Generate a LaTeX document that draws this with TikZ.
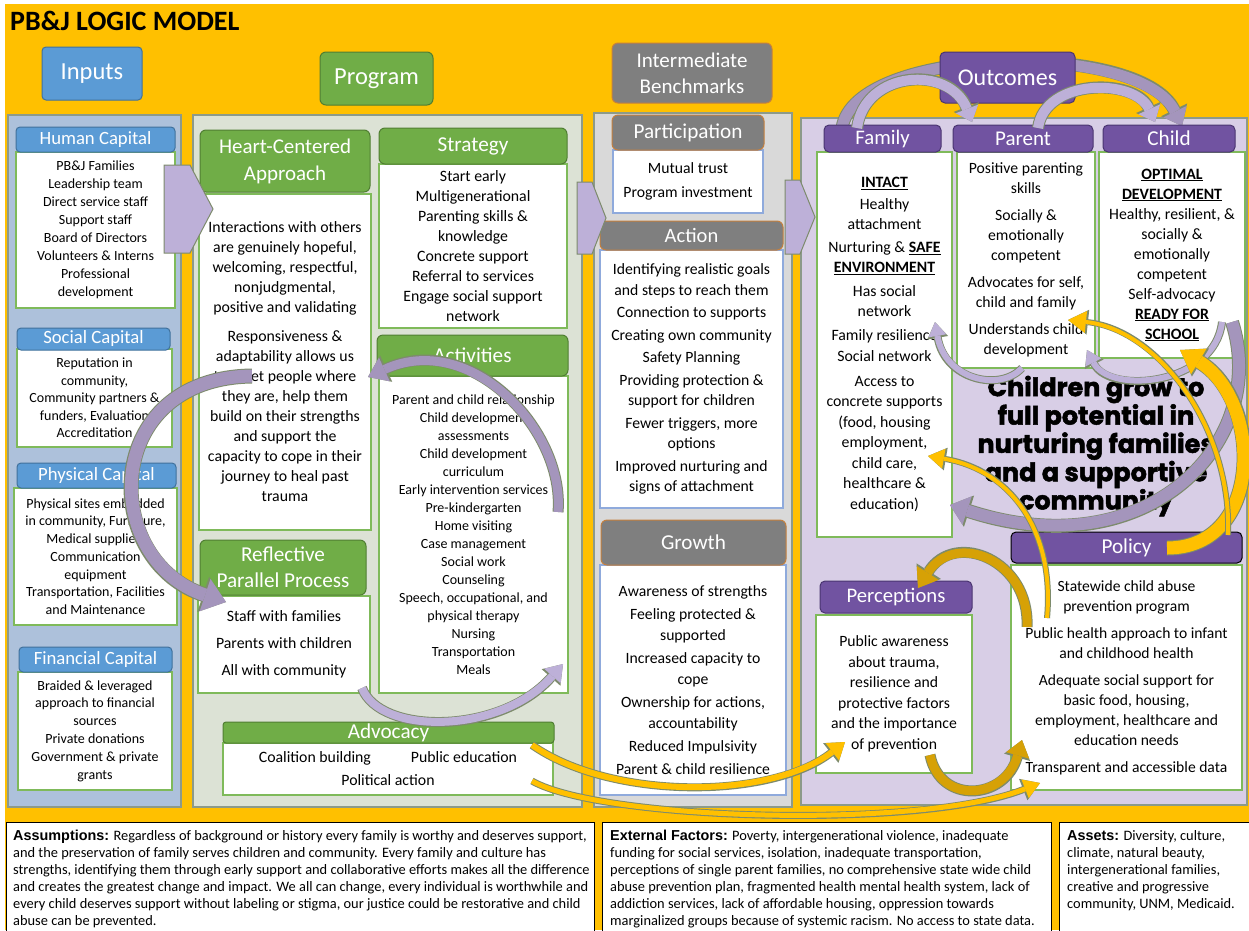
\documentclass[tikz,border=0pt]{standalone}
\usepackage{fontspec}
\setmainfont{Carlito}
\newfontfamily\arialf{Liberation Sans}
\newfontfamily\heavyf{Poppins}[BoldFeatures={FakeBold=2}]
\usetikzlibrary{arrows.meta}
\definecolor{bgor}{HTML}{FFC000}
\definecolor{cblue}{HTML}{5B9BD5}
\definecolor{cblueD}{HTML}{41719C}
\definecolor{cgreen}{HTML}{70AD47}
\definecolor{cgreenD}{HTML}{507E32}
\definecolor{cgreenL}{HTML}{7FBA5A}
\definecolor{cgray}{HTML}{7F7F7F}
\definecolor{cgrayB}{HTML}{C5803E}
\definecolor{cpurp}{HTML}{7153A1}
\definecolor{cpurpD}{HTML}{4A3570}
\definecolor{cblueL}{HTML}{8FAADC}
\definecolor{colIn}{HTML}{ADC1DB}
\definecolor{colPr}{HTML}{DCE2D5}
\definecolor{colIm}{HTML}{D9D9D9}
\definecolor{colOu}{HTML}{D8CEE6}
\definecolor{colB}{HTML}{8C9A8A}
\definecolor{apur}{HTML}{BDB0D8}
\definecolor{apurD}{HTML}{A495BC}
\definecolor{agold}{HTML}{FFC000}
\definecolor{agoldD}{HTML}{D6A106}
\definecolor{aout}{HTML}{7D8B6C}
\newcommand\fs[2]{\fontsize{#1}{#2}\selectfont}
\newcommand\bx[7]{\node[#2, minimum width={(#5-#3)*1pt}, minimum height={(#6-#4)*1pt}] (#1) at ({(#3+#5)/2},{(#4+#6)/2}) {#7};}
\newcommand\farrow[5]{%
 \pgfmathsetmacro\fo{#1+2}%
 \pgfmathsetmacro\fw{#3+3}%
 \pgfmathsetmacro\fl{#4+2}%
 \draw[line width=\fo pt, draw=aout, -{Triangle[width=\fw pt,length=\fl pt,line width=0pt]}] #5;
 \draw[line width=#1pt, draw=#2, -{Triangle[width=#3pt,length=#4pt,line width=0pt]}] #5;}
\begin{document}
\begin{tikzpicture}[x=1pt,y=-1pt,
 hdrB/.style={rounded corners=4pt, fill=cblue, draw=cblueD, line width=1pt, text=white, align=center, inner sep=0pt},
 hdrG/.style={rounded corners=6pt, fill=cgreen, draw=cgreenD, line width=1pt, text=white, align=center, inner sep=0pt},
 hdrGr/.style={rounded corners=6pt, fill=cgray, draw=cgrayB, line width=1pt, text=white, align=center, inner sep=0pt},
 hdrP/.style={rounded corners=5pt, fill=cpurp, draw=cpurpD, line width=1pt, text=white, align=center, inner sep=0pt},
 bodyG/.style={fill=white, draw=cgreenL, line width=1.3pt, align=center, inner sep=0pt},
 bodyB/.style={fill=white, draw=cblueL, line width=1.3pt, align=center, inner sep=0pt},
 colbox/.style={draw=colB, line width=1.2pt, inner sep=0pt},
 bottombox/.style={fill=white, draw=black, line width=1pt, inner sep=0pt},
 btext/.style={anchor=north west, align=left, inner sep=0pt, font=\fs{14.4}{17}}
]
\useasboundingbox (0,0) rectangle (1249,930);
\fill[bgor] (0,0) rectangle (1249,930);
\fill[white] (0,0) rectangle (1249,3.5);
\fill[white] (0,0) rectangle (5,930);
\node[anchor=base west, inner sep=0pt, font=\fs{28}{30}\bfseries] (title) at (10,30) {PB\&J LOGIC MODEL};

% columns
\bx{colin}{colbox, fill=colIn}{8}{115}{181}{807}{}
\bx{colpr}{colbox, fill=colPr}{193}{115}{582}{807}{}
\bx{colim}{colbox, fill=colIm}{594}{113}{792}{807}{}
\bx{colou}{colbox, fill=colOu}{801}{118}{1247}{805}{}

% big arc behind Outcomes
\farrow{11}{apurD}{26}{16}{(842,128) .. controls (855,45) and (1140,40) .. (1182,126)}

% top headers
\bx{inputs}{hdrB, font=\fs{24.5}{26}}{42}{47}{142}{100}{Inputs}
\bx{program}{hdrG, font=\fs{24.5}{26}}{320}{52}{433}{105}{Program}
\bx{ib}{hdrGr, font=\fs{21}{26}}{612}{43}{772}{103}{Intermediate\\Benchmarks}
\bx{outcomes}{hdrP, font=\fs{24}{26}}{940}{52}{1075}{103}{Outcomes}

% Inputs column
\bx{hc}{bodyG, font=\fs{14}{18}}{16}{152}{175}{308}{PB\&J Families\\Leadership team\\Direct service staff\\Support staff\\Board of Directors\\Volunteers \& Interns\\Professional\\development}
\bx{hch}{hdrB, font=\fs{18.7}{20}}{16}{127}{175}{152}{Human Capital}
\bx{sc}{bodyG, font=\fs{14}{17.5}}{17}{349}{172}{447}{Reputation in\\community,\\Community partners \&\\funders, Evaluation\\Accreditation}
\bx{sch}{hdrB, font=\fs{18.7}{20}}{17}{328}{170}{350}{Social Capital}
\bx{pc}{bodyG, font=\fs{14}{17.7}}{14}{488}{177}{625}{Physical sites embedded\\in community, Furniture,\\Medical supplies,\\Communication\\equipment\\Transportation, Facilities\\and Maintenance}
\bx{pch}{hdrB, font=\fs{18.7}{20}}{17}{463}{176}{488}{Physical Capital}
\bx{fc}{bodyG, font=\fs{14}{17.8}}{18}{672}{172}{790}{Braided \& leveraged\\approach to financial\\sources\\Private donations\\Government \& private\\grants}
\bx{fch}{hdrB, font=\fs{18.7}{20}}{19}{647}{172}{672}{Financial Capital}

% Program column
\bx{hcab}{bodyG, font=\fs{15.8}{20}}{199}{194}{371}{530}{Interactions with others\\are genuinely hopeful,\\welcoming, respectful,\\nonjudgmental,\\positive and validating\\[9pt]Responsiveness \&\\adaptability allows us\\to meet people where\\they are, help them\\build on their strengths\\and support the\\capacity to cope in their\\journey to heal past\\trauma}
\bx{hca}{hdrG, font=\fs{21}{27}}{200}{130}{370}{192}{Heart-Centered\\Approach}
\bx{stratb}{bodyG, font=\fs{15.8}{20}}{379}{164}{567}{328}{Start early\\Multigenerational\\Parenting skills \&\\knowledge\\Concrete support\\Referral to services\\Engage social support\\network}
\bx{strat}{hdrG, font=\fs{21.2}{22}}{379}{128}{567}{164}{Strategy}
\bx{actb}{bodyG, font=\fs{14}{18}}{379}{376}{568}{693}{Parent and child relationship\\Child development\\assessments\\Child development\\curriculum\\Early intervention services\\Pre-kindergarten\\Home visiting\\Case management\\Social work\\Counseling\\Speech, occupational, and\\physical therapy\\Nursing\\Transportation\\Meals}
\bx{act}{hdrG, font=\fs{21.2}{22}}{377}{335}{568}{376}{Activities}
\bx{rppb}{bodyG, font=\fs{15.8}{27}}{198}{596}{370}{693}{Staff with families\\Parents with children\\All with community}
\bx{rpp}{hdrG, font=\fs{21.2}{26}}{200}{540}{366}{595}{Reflective\\Parallel Process}
\bx{advb}{bodyG, font=\fs{15.8}{23}}{223}{743}{553}{795}{Coalition building\hspace{40pt}Public education\\Political action}
\bx{adv}{hdrG, rounded corners=3pt, font=\fs{21.2}{22}}{223}{722}{554}{743}{Advocacy}

% Intermediate column
\bx{partb}{bodyB, font=\fs{15.7}{24}}{613}{150}{763}{213}{Mutual trust\\Program investment}
\bx{part}{hdrGr, font=\fs{21.2}{22}}{612}{115}{764}{150}{Participation}
\bx{actnb}{bodyB, font=\fs{15.7}{20.5}}{600}{250}{783}{508}{Identifying realistic goals\\and steps to reach them\\[2pt]Connection to supports\\[2pt]Creating own community\\[2pt]Safety Planning\\[2pt]Providing protection \&\\support for children\\[2pt]Fewer triggers, more\\options\\[2pt]Improved nurturing and\\signs of attachment}
\bx{actn}{hdrGr, font=\fs{20.5}{22}}{600}{221}{783}{250}{Action}
\bx{growb}{bodyB, font=\fs{15.7}{21}}{600}{565}{786}{795}{Awareness of strengths\\[2pt]Feeling protected \&\\supported\\[2pt]Increased capacity to\\cope\\[2pt]Ownership for actions,\\accountability\\[2pt]Reduced Impulsivity\\[2pt]Parent \& child resilience}
\bx{grow}{hdrGr, font=\fs{21.2}{22}}{601}{520}{786}{565}{Growth}

% Outcomes column
\bx{famb}{bodyG, font=\fs{15.8}{20.5}}{817}{152}{952}{537}{\underline{\textbf{INTACT}}\\[1pt]Healthy\\attachment\\[2pt]Nurturing \& \underline{\textbf{SAFE}}\\\underline{\textbf{ENVIRONMENT}}\\[3pt]Has social\\network\\[3pt]Family resilience\\[1pt]Social network\\[4pt]Access to\\concrete supports\\(food, housing\\employment,\\child care,\\healthcare \&\\education)}
\bx{fam}{hdrP, font=\fs{20.7}{22}}{824}{125}{941}{152}{Family}
\bx{parb}{bodyG, font=\fs{15.7}{20}}{957}{152}{1095}{368}{Positive parenting\\skills\\[7pt]Socially \&\\emotionally\\competent\\[7pt]Advocates for self,\\child and family\\[7pt]Understands child\\development}
\bx{par}{hdrP, font=\fs{21}{22}}{953}{125}{1093}{152}{Parent}
\bx{chb}{bodyG, font=\fs{15.8}{20}}{1099}{152}{1245}{358}{\underline{\textbf{OPTIMAL}}\\\underline{\textbf{DEVELOPMENT}}\\Healthy, resilient, \&\\socially \&\\emotionally\\competent\\Self-advocacy\\\underline{\textbf{READY FOR}}\\\underline{\textbf{SCHOOL}}}
\bx{ch}{hdrP, font=\fs{21.2}{22}}{1103}{125}{1235}{152}{Child}
\node[font=\heavyf\bfseries\fs{25.5}{27}, align=center, inner sep=0pt] (slogan) at (1096,446) {Children grow to\\full potential in\\nurturing families\\and a supportive\\community};
\bx{polb}{bodyG, font=\fs{15.6}{20}}{1011}{565}{1242}{790}{Statewide child abuse\\prevention program\\[7pt]Public health approach to infant\\and childhood health\\[7pt]Adequate social support for\\basic food, housing,\\employment, healthcare and\\education needs\\[7pt]Transparent and accessible data}
\bx{pol}{hdrP, draw=black, font=\fs{21.2}{22}}{1011}{532}{1242}{563}{Policy}
\bx{perb}{bodyG, font=\fs{15.7}{20.5}}{816}{615}{972}{773}{Public awareness\\about trauma,\\resilience and\\protective factors\\and the importance\\of prevention}
\bx{per}{hdrP, font=\fs{20.7}{22}}{820}{581}{972}{613}{Perceptions}

% chevrons
\filldraw[fill=apur, draw=aout, line width=1pt] (164,165) -- (190,165) -- (213,209) -- (190,253) -- (164,253) -- cycle;
\filldraw[fill=apur, draw=aout, line width=1pt] (577,182) -- (592,182) -- (606,218) -- (592,254) -- (577,254) -- cycle;
\filldraw[fill=apur, draw=aout, line width=1pt] (785,180) -- (800,180) -- (815,217) -- (800,254) -- (785,254) -- cycle;

% purple arrows
\farrow{13}{apurD}{34}{22}{(252,376) .. controls (100,378) and (100,560) .. (226,602)}
\farrow{9}{apurD}{26}{18}{(558,512) .. controls (565,430) and (470,330) .. (368,377)}
\farrow{8}{apur}{22}{16}{(362,688) .. controls (380,735) and (500,735) .. (563,664)}
\farrow{10}{apur}{24}{14}{(857,128) .. controls (865,70) and (950,65) .. (972,122)}
\farrow{10}{apur}{24}{14}{(1038,128) .. controls (1045,78) and (1135,78) .. (1155,122)}
\farrow{6}{apur}{18}{14}{(1022,368) .. controls (1000,392) and (945,380) .. (935,322)}
\farrow{6}{apur}{18}{14}{(1222,322) .. controls (1215,385) and (1110,395) .. (1087,350)}
\farrow{12}{apurD}{30}{18}{(1232,322) .. controls (1270,440) and (1150,570) .. (950,505)}

% gold arrows
\farrow{6}{agold}{22}{16}{(532,745) .. controls (610,800) and (770,800) .. (845,742)}
\farrow{5}{agold}{20}{16}{(532,781) .. controls (600,820) and (920,830) .. (1040,783)}
\farrow{9}{agoldD}{24}{16}{(930,755) .. controls (940,805) and (1005,800) .. (1022,740)}
\farrow{9}{agoldD}{26}{18}{(1027,627) .. controls (1030,560) and (955,530) .. (918,588)}
\farrow{4}{agold}{20}{16}{(1047,618) .. controls (1055,530) and (1010,470) .. (928,456)}
\farrow{13}{agold}{30}{22}{(1167,548) .. controls (1265,548) and (1262,400) .. (1180,350)}
\farrow{4}{agold}{22}{18}{(1228,535) .. controls (1232,430) and (1160,330) .. (1068,320)}

% bottom boxes
\bx{assum}{bottombox}{6}{822}{594}{935}{}
\bx{ext}{bottombox}{602}{822}{1051}{935}{}
\bx{assets}{bottombox}{1059}{822}{1255}{935}{}
\node[btext] (assumtext) at (13,830) {{\arialf\bfseries Assumptions:} Regardless of background or history every family is worthy and deserves support,\\and the preservation of family serves children and community. Every family and culture has\\strengths, identifying them through early support and collaborative efforts makes all the difference\\and creates the greatest change and impact. We all can change, every individual is worthwhile and\\every child deserves support without labeling or stigma, our justice could be restorative and child\\abuse can be prevented.};
\node[btext] (exttext) at (610,830) {{\arialf\bfseries External Factors:} Poverty, intergenerational violence, inadequate\\funding for social services, isolation, inadequate transportation,\\perceptions of single parent families, no comprehensive state wide child\\abuse prevention plan, fragmented health mental health system, lack of\\addiction services, lack of affordable housing, oppression towards\\marginalized groups because of systemic racism. No access to state data.};
\node[btext] (assetstext) at (1067,830) {{\arialf\bfseries Assets:} Diversity, culture,\\climate, natural beauty,\\intergenerational families,\\creative and progressive\\community, UNM, Medicaid.};
\end{tikzpicture}
\end{document}
